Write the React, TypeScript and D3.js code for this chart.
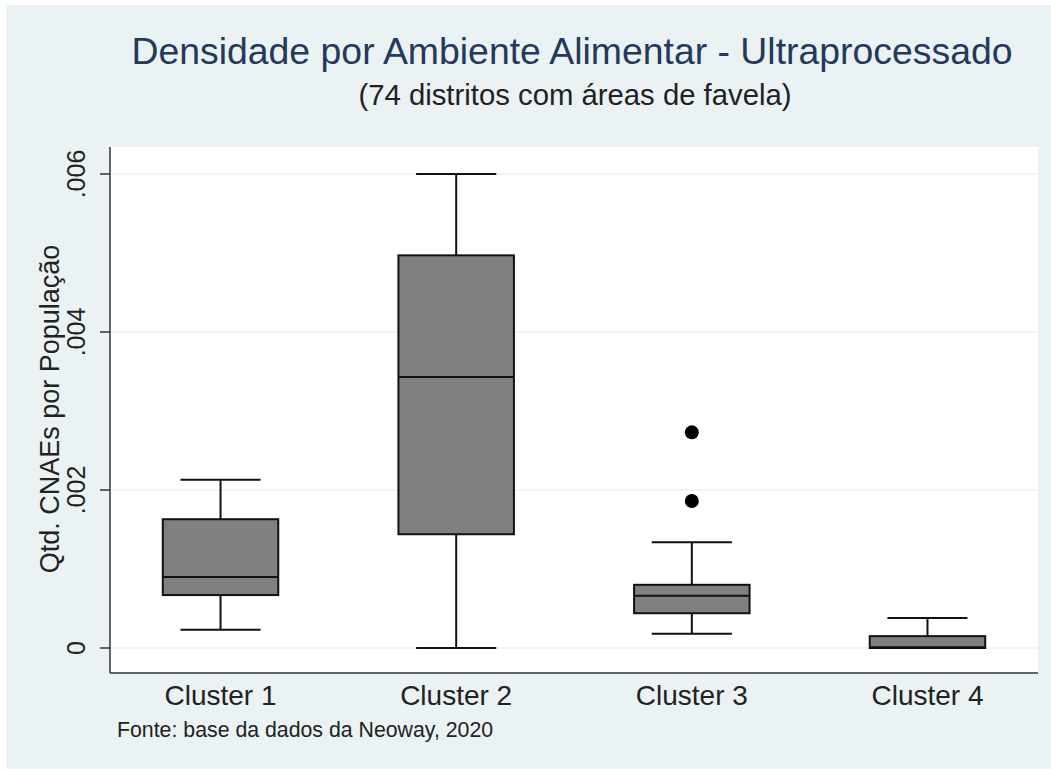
import * as d3 from 'd3';

// dados (boxplot por cluster)
const categories = ['Cluster 1', 'Cluster 2', 'Cluster 3', 'Cluster 4'];
const whiskerLow = [0.00023, 0.0, 0.00018, 0.0];
const q1 = [0.00067, 0.00144, 0.00044, 0.0];
const medians = [0.0009, 0.00343, 0.00066, 0.00001];
const q3 = [0.00163, 0.00497, 0.0008, 0.00015];
const whiskerHigh = [0.00213, 0.006, 0.00134, 0.00038];
const outliers = [[], [], [0.00273, 0.00186], []] as number[][];
const yTicks = [0, 0.002, 0.004, 0.006];
const yTickLabels = ['0', '.002', '.004', '.006'];

const W = 1051;
const H = 770;
const plot = { left: 110, right: 1038, top: 147, bottom: 673 };
const font = '"Liberation Sans", Arial, sans-serif';

export default function App() {
  const x = d3
    .scalePoint<string>()
    .domain(categories)
    .range([plot.left, plot.right])
    .padding(0.469);
  const y = d3.scaleLinear().domain([0, 0.006]).range([648, 174]);

  const step = x.step();
  const boxW = step * 0.49;
  const capW = step * 0.34;

  return (
    <svg
      width={W}
      height={H}
      style={{ position: 'absolute', left: 0, top: 0, background: '#fff' }}
      fontFamily={font}
    >
      <rect x={6} y={5} width={W - 6} height={H - 6} fill="#eaf2f3" />
      <rect
        x={plot.left}
        y={plot.top}
        width={plot.right - plot.left}
        height={plot.bottom - plot.top}
        fill="#fff"
      />

      {/* grade */}
      {yTicks.map((t) => (
        <line
          key={'g' + t}
          x1={plot.left}
          x2={plot.right}
          y1={y(t)}
          y2={y(t)}
          stroke="#eaf0f0"
          strokeWidth={1.5}
        />
      ))}

      {/* eixos */}
      <line x1={plot.left} x2={plot.left} y1={plot.top} y2={plot.bottom} stroke="#333" strokeWidth={1.5} />
      <line x1={plot.left} x2={plot.right} y1={plot.bottom} y2={plot.bottom} stroke="#333" strokeWidth={1.5} />
      {yTicks.map((t, i) => (
        <g key={'t' + t}>
          <line x1={plot.left - 10} x2={plot.left} y1={y(t)} y2={y(t)} stroke="#333" strokeWidth={1.5} />
          <text
            transform={`translate(85,${y(t)}) rotate(-90)`}
            textAnchor="middle"
            fontSize={25}
            fill="#222"
          >
            {yTickLabels[i]}
          </text>
        </g>
      ))}
      <text
        transform={`translate(59,${409}) rotate(-90)`}
        textAnchor="middle"
        fontSize={27}
        fill="#222"
      >
        Qtd. CNAEs por População
      </text>

      {/* caixas */}
      {categories.map((c, i) => {
        const cx = x(c)!;
        return (
          <g key={c} stroke="#111" strokeWidth={2}>
            <line x1={cx} x2={cx} y1={y(whiskerHigh[i])} y2={y(q3[i])} />
            <line x1={cx} x2={cx} y1={y(q1[i])} y2={y(whiskerLow[i])} />
            <line x1={cx - capW / 2} x2={cx + capW / 2} y1={y(whiskerHigh[i])} y2={y(whiskerHigh[i])} />
            <line x1={cx - capW / 2} x2={cx + capW / 2} y1={y(whiskerLow[i])} y2={y(whiskerLow[i])} />
            <rect
              x={cx - boxW / 2}
              y={y(q3[i])}
              width={boxW}
              height={y(q1[i]) - y(q3[i])}
              fill="#808080"
            />
            <line x1={cx - boxW / 2} x2={cx + boxW / 2} y1={y(medians[i])} y2={y(medians[i])} />
            {outliers[i].map((o, j) => (
              <circle key={j} cx={cx} cy={y(o)} r={7} fill="#000" stroke="none" />
            ))}
          </g>
        );
      })}

      {/* rótulos do eixo x */}
      {categories.map((c) => (
        <text key={'l' + c} x={x(c)!} y={705} textAnchor="middle" fontSize={28} fill="#222">
          {c}
        </text>
      ))}

      {/* títulos */}
      <text x={572} y={64} textAnchor="middle" fontSize={37.4} fill="#25395a">
        Densidade por Ambiente Alimentar - Ultraprocessado
      </text>
      <text x={575} y={105} textAnchor="middle" fontSize={29.3} fill="#222">
        (74 distritos com áreas de favela)
      </text>
      <text x={117} y={737} fontSize={21.3} fill="#222">
        Fonte: base da dados da Neoway, 2020
      </text>
    </svg>
  );
}
